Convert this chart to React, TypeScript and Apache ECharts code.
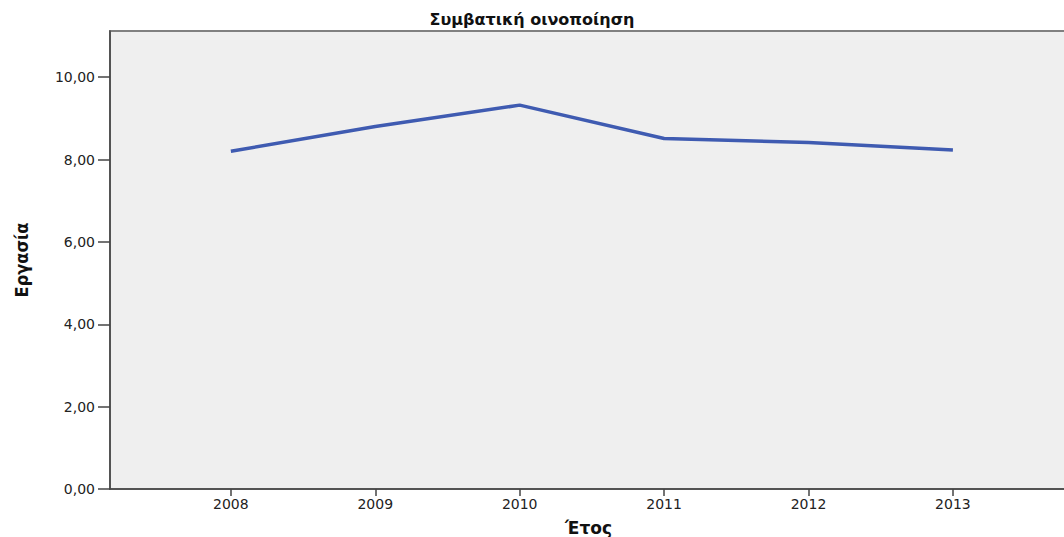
import React, { useEffect, useRef } from "react";
import * as echarts from "echarts";

const years = [2008, 2009, 2010, 2011, 2012, 2013];
const values = [8.2, 8.8, 9.32, 8.51, 8.41, 8.23];
const yTicks = [0, 2, 4, 6, 8, 10];
const title = "Συμβατική οινοποίηση";
const xName = "Έτος";
const yName = "Εργασία";

export default function App() {
  const ref = useRef<HTMLDivElement>(null);
  useEffect(() => {
    if (!ref.current) return;
    const chart = echarts.init(ref.current, null, { renderer: "svg" });
    const labelFont = { fontFamily: "DejaVu Sans", fontSize: 14, color: "#222" };
    chart.setOption({
      animation: false,
      backgroundColor: "#ffffff",
      title: {
        text: title,
        left: "center",
        top: 6,
        textStyle: { fontFamily: "DejaVu Sans", fontWeight: "bold", fontSize: 16, color: "#111" },
      },
      grid: {
        left: 110,
        top: 31,
        bottom: 48,
        right: -3,
        containLabel: false,
        outerBoundsMode: "none",
        show: true,
        backgroundColor: "#efefef",
        borderColor: "#808080",
        borderWidth: 2,
      },
      xAxis: {
        type: "value",
        min: 2007.163,
        max: 2013.79,
        name: xName,
        nameLocation: "middle",
        nameGap: 30,
        nameTextStyle: { fontFamily: "DejaVu Sans", fontWeight: "bold", fontSize: 17, color: "#111" },
        axisLine: { show: true, lineStyle: { color: "#444", width: 1.5 } },
        axisTick: { show: true, length: 7, customValues: years, lineStyle: { color: "#444", width: 1.5 } },
        axisLabel: { ...labelFont, margin: 8, customValues: years, formatter: (v: number) => String(v) },
        splitLine: { show: false },
      },
      yAxis: {
        type: "value",
        min: 0,
        max: 11.12,
        name: yName,
        nameLocation: "middle",
        nameGap: 80,
        nameRotate: 90,
        nameTextStyle: {
          fontFamily: "DejaVu Sans Condensed",
          fontWeight: "bold",
          fontSize: 18,
          color: "#111",
        },
        axisLine: { show: true, lineStyle: { color: "#444", width: 1.5 } },
        axisTick: { show: true, length: 12, customValues: yTicks, lineStyle: { color: "#444", width: 1.5 } },
        axisLabel: {
          ...labelFont,
          margin: 15,
          customValues: yTicks,
          formatter: (v: number) => v.toFixed(2).replace(".", ","),
        },
        splitLine: { show: false },
      },
      series: [
        {
          type: "line",
          data: years.map((y, i) => [y, values[i]]),
          showSymbol: false,
          symbol: "none",
          lineStyle: { color: "#3f5bb1", width: 3.5 },
        },
      ],
    });
    return () => chart.dispose();
  }, []);
  return (
    <div
      ref={ref}
      style={{ position: "absolute", left: 0, top: 0, width: 1064, height: 537 }}
    />
  );
}
